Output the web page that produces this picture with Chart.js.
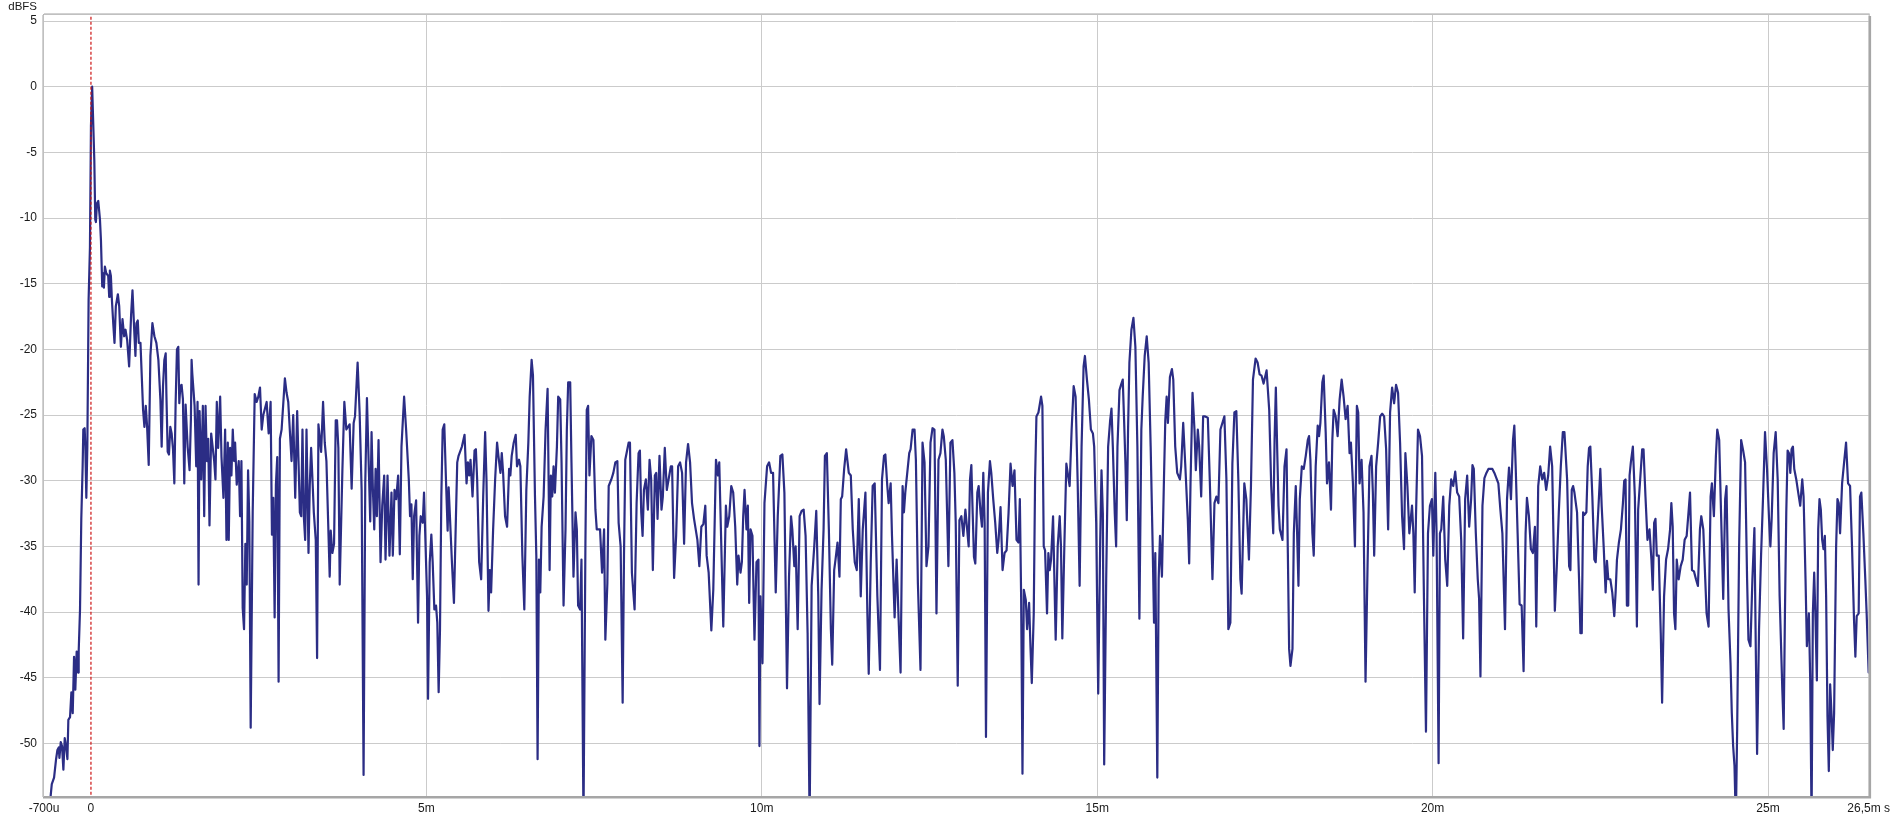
<!DOCTYPE html>
<html><head><meta charset="utf-8">
<script src="https://cdn.jsdelivr.net/npm/chart.js@4/dist/chart.umd.min.js"></script>
<style>html,body{margin:0;padding:0;background:#fff;}canvas{display:block;}</style>
</head><body>
<canvas id="c" width="1895" height="818"></canvas>
<script>
// ---- data: [time in ms, level in dBFS] ----
const seg1 = [[-0.65,-57],[-0.599,-53.9],[-0.584,-53.1],[-0.550,-52.6],[-0.520,-51.2],[-0.500,-50.5],[-0.480,-50.3],[-0.470,-51.1],[-0.450,-49.9],[-0.431,-50.2],[-0.411,-52.0],[-0.391,-49.6],[-0.371,-50.2],[-0.351,-51.2],[-0.337,-48.2],[-0.312,-48.0],[-0.292,-46.1],[-0.272,-47.7],[-0.252,-43.4],[-0.233,-45.9],[-0.213,-43.0],[-0.193,-44.6],[-0.183,-43.0],[-0.163,-39.8],[-0.144,-32.9],[-0.124,-28.9],[-0.114,-26.1],[-0.094,-26.0],[-0.084,-27.4],[-0.069,-31.3],[-0.054,-27.4],[-0.035,-16.2],[-0.015,-12.2],[0.0,-3.0],[0.018,0.0],[0.035,-3.0],[0.050,-5.6],[0.064,-10.1],[0.074,-10.3],[0.089,-8.9],[0.109,-8.7],[0.134,-10.1],[0.149,-11.7],[0.168,-15.2],[0.183,-14.2],[0.193,-15.3],[0.208,-13.7],[0.228,-14.2],[0.257,-14.4],[0.272,-16.0],[0.282,-14.0],[0.297,-14.4],[0.312,-16.2],[0.332,-18.0],[0.351,-19.5],[0.371,-16.7],[0.401,-15.8],[0.421,-16.7],[0.446,-19.8],[0.470,-17.7],[0.495,-19.0],[0.515,-18.5],[0.540,-19.3],[0.569,-21.3],[0.599,-17.3],[0.619,-15.5],[0.649,-19.0],[0.663,-20.5],[0.678,-18.0],[0.698,-17.8],[0.713,-19.5],[0.738,-19.5],[0.777,-24.6],[0.797,-25.9],[0.817,-24.3],[0.837,-25.9],[0.861,-28.8],[0.886,-20.5],[0.916,-18.0],[0.946,-19.0],[0.975,-19.5],[1.005,-20.8],[1.035,-23.8],[1.054,-27.4],[1.074,-22.8],[1.094,-20.8],[1.114,-20.3],[1.124,-23.3],[1.144,-27.8],[1.163,-28.0],[1.183,-25.9],[1.203,-26.4],[1.223,-27.6],[1.243,-30.2],[1.262,-24.1],[1.282,-20.0],[1.302,-19.8],[1.317,-24.1],[1.332,-22.8],[1.351,-22.7],[1.371,-23.8],[1.391,-30.2],[1.411,-24.2],[1.441,-27.4],[1.470,-29.2],[1.490,-25.3],[1.500,-20.8],[1.510,-21.8],[1.545,-24.3],[1.569,-28.9]];
const seg2 = [[1.589,-24.0],[1.604,-37.9],[1.619,-24.7],[1.644,-29.9],[1.668,-24.3],[1.688,-32.7],[1.708,-24.3],[1.728,-28.5],[1.748,-26.8],[1.767,-33.4],[1.792,-26.4],[1.837,-28.5],[1.856,-29.9],[1.876,-24.0],[1.896,-27.5],[1.926,-23.6],[1.946,-28.2],[1.975,-31.3],[2.0,-26.1],[2.020,-34.5],[2.040,-27.1],[2.054,-34.5],[2.074,-27.5],[2.094,-29.6],[2.114,-26.1],[2.134,-28.5],[2.149,-27.1],[2.173,-30.3],[2.203,-28.5],[2.223,-32.7],[2.243,-28.5],[2.262,-39.7],[2.282,-41.3],[2.302,-34.8],[2.322,-37.9],[2.342,-29.2],[2.361,-33.1],[2.381,-48.8],[2.411,-32.4],[2.441,-23.4],[2.470,-24.0],[2.495,-23.6],[2.520,-22.9],[2.545,-26.1],[2.569,-25.0],[2.619,-24.0],[2.649,-26.4],[2.678,-24.0],[2.698,-34.1],[2.718,-31.3],[2.738,-40.4],[2.757,-30.3],[2.777,-28.2],[2.797,-45.3],[2.817,-26.8],[2.842,-26.1],[2.891,-22.2],[2.916,-23.3],[2.941,-24.0],[2.990,-28.5],[3.015,-25.0],[3.045,-31.3],[3.074,-24.7],[3.094,-28.5],[3.114,-32.4],[3.134,-32.7],[3.153,-26.1],[3.173,-32.7],[3.193,-34.5],[3.213,-26.1],[3.243,-35.5],[3.262,-30.3],[3.282,-27.5],[3.302,-29.9],[3.322,-32.4],[3.351,-34.5],[3.371,-43.5],[3.391,-25.7],[3.431,-27.8],[3.460,-24.0],[3.485,-27.1],[3.510,-28.5],[3.559,-37.3],[3.574,-33.8],[3.599,-35.5],[3.624,-34.8],[3.649,-25.4],[3.668,-25.4],[3.688,-27.5],[3.708,-37.9],[3.748,-29.2],[3.777,-24.0],[3.807,-26.1],[3.856,-25.7],[3.886,-30.6]];
const seg3 = [[3.916,-25.6],[3.936,-25.1],[3.975,-21.0],[4.005,-24.8],[4.035,-30.7],[4.064,-52.4],[4.089,-30.2],[4.114,-23.7],[4.144,-29.4],[4.163,-33.1],[4.183,-26.3],[4.203,-30.7],[4.223,-33.7],[4.243,-29.1],[4.262,-32.7],[4.287,-26.9],[4.317,-36.2],[4.342,-31.9],[4.371,-29.6],[4.391,-36.0],[4.421,-29.6],[4.450,-35.7],[4.480,-30.9],[4.500,-35.7],[4.525,-30.7],[4.550,-31.4],[4.579,-29.6],[4.604,-35.6],[4.629,-27.4],[4.668,-23.6],[4.698,-26.1],[4.738,-29.9],[4.757,-32.7],[4.777,-31.8],[4.797,-37.5],[4.817,-32.7],[4.847,-31.5],[4.876,-40.8],[4.896,-34.2],[4.916,-32.7],[4.946,-33.2],[4.965,-30.9],[5.010,-38.8],[5.025,-46.6],[5.050,-36.2],[5.074,-34.1],[5.094,-36.2],[5.119,-39.8],[5.144,-39.5],[5.163,-40.8],[5.183,-46.1],[5.203,-41.3],[5.223,-31.2],[5.243,-26.1],[5.267,-25.7],[5.292,-29.9],[5.317,-33.8],[5.332,-30.5],[5.351,-32.7],[5.381,-36.2],[5.411,-39.3],[5.441,-32.7],[5.460,-28.6],[5.480,-28.1],[5.530,-27.4],[5.569,-26.5],[5.599,-30.2],[5.619,-28.6],[5.639,-29.6],[5.658,-28.4],[5.688,-31.2],[5.718,-27.7],[5.738,-27.6],[5.757,-29.9],[5.787,-36.2],[5.817,-37.5],[5.847,-31.2],[5.876,-26.3],[5.896,-29.9],[5.926,-39.9],[5.946,-36.8],[5.965,-38.5],[5.995,-33.7],[6.025,-29.9],[6.054,-27.1],[6.074,-28.1],[6.104,-29.4],[6.124,-27.9],[6.144,-29.4],[6.173,-32.7],[6.203,-33.5],[6.233,-29.1],[6.252,-29.6],[6.272,-28.1],[6.302,-27.1],[6.332,-26.5],[6.351,-28.9],[6.381,-28.4],[6.401,-28.9],[6.431,-35.7],[6.460,-39.8],[6.490,-30.7],[6.520,-27.1],[6.540,-23.6],[6.569,-20.8],[6.589,-22.0],[6.619,-31.2],[6.639,-35.7],[6.658,-51.2],[6.678,-36.0],[6.698,-38.5],[6.718,-33.5],[6.748,-31.2],[6.777,-26.1],[6.807,-23.0],[6.837,-36.8],[6.856,-29.6],[6.876,-31.2],[6.896,-28.9],[6.916,-30.9],[6.946,-27.4],[6.965,-23.6],[6.995,-23.8],[7.015,-28.6],[7.045,-39.5],[7.074,-33.7],[7.094,-26.1],[7.114,-22.5],[7.144,-22.5],[7.163,-28.6],[7.193,-37.3],[7.223,-32.4],[7.243,-33.7],[7.262,-39.5],[7.292,-39.8],[7.312,-36.0],[7.342,-56.0],[7.371,-34.7],[7.391,-24.6],[7.411,-24.3],[7.431,-29.6],[7.460,-26.6],[7.490,-26.9],[7.520,-32.2],[7.540,-33.7],[7.589,-33.7],[7.619,-37.0],[7.649,-33.7],[7.668,-42.1],[7.698,-37.8],[7.718,-30.4],[7.757,-29.9],[7.787,-29.4],[7.817,-28.6],[7.847,-28.5],[7.866,-33.2],[7.896,-35.0],[7.926,-46.9],[7.946,-35.7],[7.965,-28.4],[8.015,-27.1],[8.035,-27.1],[8.064,-37.0],[8.104,-39.8],[8.134,-31.7],[8.163,-27.9],[8.183,-27.7],[8.203,-32.4],[8.223,-34.2],[8.243,-30.7],[8.272,-29.9],[8.302,-32.2],[8.327,-28.4],[8.351,-29.9]];
const seg4 = [[8.376,-36.8],[8.406,-29.6],[8.426,-29.4],[8.446,-32.9],[8.475,-28.1],[8.505,-32.2],[8.525,-31.2],[8.554,-27.5],[8.584,-30.7],[8.644,-28.9],[8.663,-28.9],[8.693,-37.4],[8.723,-34.2],[8.753,-28.9],[8.782,-28.6],[8.812,-29.4],[8.842,-34.8],[8.871,-28.6],[8.901,-27.2],[8.931,-28.6],[8.960,-31.7],[8.990,-32.9],[9.040,-34.5],[9.069,-36.5],[9.099,-33.5],[9.129,-33.3],[9.158,-31.9],[9.178,-35.7],[9.208,-37.0],[9.248,-41.4],[9.277,-38.3],[9.317,-28.4],[9.347,-29.6],[9.366,-28.6],[9.426,-41.1],[9.465,-31.9],[9.485,-33.5],[9.515,-32.7],[9.545,-30.4],[9.574,-30.9],[9.604,-33.5],[9.634,-37.9],[9.653,-35.7],[9.683,-37.0],[9.703,-36.2],[9.723,-32.7],[9.743,-30.7],[9.772,-33.7],[9.792,-31.9],[9.812,-39.3],[9.832,-33.7],[9.861,-34.2],[9.891,-42.1],[9.921,-36.2],[9.950,-36.0],[9.965,-50.2],[9.980,-38.8],[10.010,-43.9],[10.040,-31.7],[10.079,-28.9],[10.109,-28.6],[10.139,-29.4],[10.168,-29.4],[10.208,-38.5],[10.238,-32.7],[10.277,-28.1],[10.307,-28.0],[10.337,-30.9],[10.376,-45.8],[10.406,-37.3],[10.436,-32.7],[10.455,-33.7],[10.485,-36.5],[10.505,-35.0],[10.535,-41.3],[10.564,-32.7],[10.594,-32.3],[10.624,-32.2],[10.653,-34.2],[10.683,-41.6],[10.713,-56.0],[10.743,-38.0],[10.782,-35.0],[10.812,-32.3],[10.842,-38.8],[10.861,-47.0],[10.891,-38.3],[10.921,-33.7],[10.941,-28.1],[10.970,-27.9],[11.000,-33.7],[11.030,-41.3],[11.050,-44.0],[11.079,-36.8],[11.099,-36.0],[11.129,-34.7],[11.158,-37.3],[11.178,-31.4],[11.198,-31.2],[11.228,-29.1],[11.257,-27.6],[11.297,-29.4],[11.327,-29.6],[11.356,-33.7],[11.386,-36.2],[11.416,-36.8],[11.446,-31.4],[11.475,-38.8],[11.505,-33.7],[11.545,-30.9],[11.574,-40.1],[11.594,-44.7],[11.624,-36.2],[11.653,-30.4],[11.683,-30.2],[11.723,-38.8],[11.762,-44.4],[11.792,-29.9],[11.822,-28.1],[11.842,-28.0],[11.871,-30.4],[11.891,-31.7],[11.921,-30.2],[11.941,-34.2],[11.980,-40.4],[12.010,-36.0],[12.040,-40.6],[12.069,-44.6],[12.099,-30.4],[12.119,-32.4],[12.139,-30.9],[12.198,-27.9],[12.218,-27.6],[12.248,-26.1],[12.277,-26.1],[12.297,-28.4],[12.327,-37.8],[12.366,-44.4],[12.396,-27.1],[12.426,-28.6],[12.455,-36.5],[12.485,-35.0],[12.515,-27.1],[12.545,-26.0],[12.574,-26.1],[12.604,-40.1],[12.634,-28.4],[12.663,-27.9],[12.693,-26.1],[12.713,-26.6],[12.743,-28.4],[12.782,-36.5],[12.812,-27.1],[12.842,-26.9],[12.871,-29.4],[12.891,-33.2],[12.921,-45.6]];
const seg5 = [[12.946,-33.0],[12.975,-32.7],[13.005,-34.2],[13.035,-32.2],[13.084,-35.0],[13.104,-29.9],[13.124,-28.8],[13.144,-32.5],[13.163,-35.8],[13.183,-36.3],[13.213,-30.9],[13.233,-30.4],[13.262,-32.5],[13.282,-33.5],[13.302,-29.4],[13.322,-33.2],[13.342,-49.5],[13.371,-30.9],[13.401,-28.5],[13.421,-29.4],[13.450,-31.4],[13.480,-33.2],[13.510,-35.5],[13.530,-34.5],[13.559,-32.0],[13.589,-36.8],[13.619,-35.5],[13.649,-35.3],[13.678,-32.5],[13.708,-28.7],[13.738,-30.4],[13.767,-29.2],[13.797,-34.5],[13.827,-34.7],[13.847,-31.4],[13.866,-38.8],[13.886,-52.3],[13.906,-38.3],[13.936,-39.1],[13.955,-41.3],[13.985,-39.3],[14.005,-42.6],[14.025,-45.4],[14.054,-40.1],[14.074,-29.9],[14.094,-25.1],[14.124,-24.8],[14.163,-23.6],[14.183,-24.3],[14.203,-35.0],[14.223,-35.3],[14.252,-40.1],[14.272,-35.5],[14.292,-36.8],[14.312,-36.0],[14.342,-32.7],[14.381,-42.1],[14.411,-35.0],[14.441,-32.7],[14.460,-35.0],[14.480,-42.0],[14.510,-35.0],[14.540,-28.7],[14.569,-29.7],[14.589,-30.4],[14.619,-26.1],[14.649,-22.8],[14.678,-23.6],[14.708,-29.9],[14.738,-38.0],[14.767,-27.4],[14.797,-21.3],[14.817,-20.5],[14.847,-22.3],[14.876,-23.8],[14.906,-26.1],[14.936,-26.4],[14.955,-27.4],[14.985,-33.2],[15.015,-46.2],[15.045,-34.5],[15.064,-29.2],[15.084,-32.5],[15.104,-51.6],[15.134,-37.5],[15.163,-27.4],[15.193,-25.4],[15.213,-24.5],[15.233,-27.4],[15.262,-32.5],[15.282,-35.0],[15.302,-27.4],[15.332,-23.1],[15.361,-22.6],[15.381,-22.3],[15.401,-25.4],[15.421,-28.7],[15.441,-33.0],[15.460,-26.1],[15.480,-21.0],[15.510,-18.5],[15.540,-17.6],[15.569,-19.8],[15.599,-27.4],[15.629,-40.5],[15.658,-26.1],[15.678,-23.6],[15.708,-20.5],[15.738,-19.0],[15.767,-21.0],[15.797,-27.4],[15.827,-35.0],[15.847,-40.8],[15.866,-35.5],[15.896,-52.6],[15.916,-37.5],[15.936,-34.2],[15.965,-37.3],[15.995,-29.9],[16.015,-25.4],[16.035,-23.6],[16.054,-25.6],[16.084,-22.1],[16.114,-21.5],[16.134,-22.3],[16.163,-27.4],[16.193,-29.4],[16.233,-29.9],[16.252,-28.9],[16.282,-25.6],[16.312,-28.7],[16.351,-33.0],[16.371,-36.3],[16.391,-30.2],[16.421,-23.3],[16.450,-26.1],[16.470,-29.2],[16.500,-26.1],[16.520,-27.4],[16.550,-31.2],[16.579,-25.1],[16.609,-25.1],[16.649,-25.2],[16.678,-29.9],[16.718,-37.5],[16.748,-31.7],[16.777,-31.2],[16.807,-31.7],[16.837,-26.1],[16.866,-25.6],[16.896,-25.1],[16.926,-29.9],[16.955,-41.3],[16.985,-40.8],[17.015,-28.7],[17.045,-24.8],[17.074,-24.7],[17.104,-29.9],[17.134,-37.5],[17.153,-38.6],[17.193,-30.2],[17.223,-31.4],[17.262,-36.0],[17.292,-30.4],[17.322,-22.3],[17.361,-20.7],[17.391,-21.0],[17.421,-21.9],[17.450,-22.0],[17.480,-22.6]];
const seg6 = [[17.525,-21.6],[17.564,-24.6],[17.594,-30.4],[17.624,-34.0],[17.644,-26.9],[17.663,-22.9],[17.683,-27.6],[17.703,-31.9],[17.723,-33.7],[17.762,-34.5],[17.792,-28.9],[17.822,-27.6],[17.842,-35.5],[17.861,-42.8],[17.881,-44.1],[17.911,-42.8],[17.931,-34.0],[17.960,-30.4],[17.980,-34.0],[18.000,-38.0],[18.020,-31.4],[18.050,-28.9],[18.079,-29.1],[18.109,-28.1],[18.139,-26.9],[18.158,-26.6],[18.178,-28.4],[18.208,-34.0],[18.228,-35.7],[18.257,-28.9],[18.287,-25.8],[18.307,-26.6],[18.327,-25.6],[18.356,-22.5],[18.376,-22.0],[18.406,-26.3],[18.426,-30.2],[18.455,-28.6],[18.485,-32.2],[18.505,-26.9],[18.525,-24.6],[18.554,-25.1],[18.584,-26.6],[18.614,-23.8],[18.644,-22.3],[18.673,-23.6],[18.703,-25.3],[18.733,-24.3],[18.762,-27.9],[18.782,-27.1],[18.812,-30.2],[18.842,-35.0],[18.871,-24.3],[18.891,-24.8],[18.911,-30.2],[18.941,-28.4],[18.970,-32.4],[19.000,-45.3],[19.030,-36.5],[19.059,-28.9],[19.089,-28.1],[19.109,-30.9],[19.129,-35.7],[19.158,-28.9],[19.188,-27.1],[19.218,-25.1],[19.248,-24.9],[19.277,-25.1],[19.307,-27.6],[19.337,-33.7],[19.366,-24.8],[19.396,-22.9],[19.426,-24.1],[19.455,-22.7],[19.485,-23.3],[19.515,-27.1],[19.545,-32.7],[19.574,-35.2],[19.594,-27.9],[19.624,-30.4],[19.653,-34.0],[19.693,-31.9],[19.713,-34.0],[19.733,-38.5],[19.752,-32.7],[19.782,-26.1],[19.812,-26.6],[19.842,-28.1],[19.871,-39.0],[19.901,-49.1],[19.931,-34.0],[19.960,-31.9],[19.990,-31.4],[20.010,-35.7],[20.040,-29.4],[20.059,-34.0],[20.089,-51.5],[20.109,-34.0],[20.129,-33.7],[20.158,-31.2],[20.188,-36.0],[20.218,-38.0],[20.248,-31.9],[20.277,-29.9],[20.307,-30.4],[20.337,-29.3],[20.366,-30.9],[20.396,-31.2],[20.426,-34.5],[20.455,-42.0],[20.485,-31.4],[20.515,-29.6],[20.545,-33.5],[20.574,-31.4],[20.594,-28.8],[20.614,-29.1],[20.644,-34.0],[20.673,-37.5],[20.693,-39.0],[20.713,-44.9],[20.743,-31.9],[20.772,-29.8],[20.802,-29.4],[20.832,-29.1],[20.891,-29.1],[20.921,-29.4],[20.980,-30.2],[21.010,-32.2],[21.040,-34.0],[21.079,-41.3],[21.109,-31.4],[21.139,-29.0],[21.168,-31.4],[21.198,-26.9],[21.218,-25.8],[21.238,-28.9],[21.267,-34.0],[21.297,-39.4],[21.327,-39.5],[21.356,-44.5],[21.386,-34.0],[21.406,-31.3],[21.436,-32.7],[21.465,-35.2],[21.495,-35.5],[21.525,-33.5],[21.545,-41.1],[21.574,-30.4],[21.604,-28.9],[21.634,-29.9],[21.663,-29.4],[21.693,-30.7],[21.723,-29.6],[21.752,-27.4],[21.782,-28.9],[21.822,-39.9],[21.851,-36.5],[21.881,-32.4],[21.911,-28.9],[21.941,-26.3]];
const seg7 = [[21.965,-26.3],[22.005,-29.9],[22.035,-36.5],[22.054,-36.8],[22.074,-30.7],[22.094,-30.4],[22.114,-30.9],[22.153,-32.4],[22.183,-37.5],[22.203,-41.6],[22.223,-41.6],[22.243,-32.4],[22.262,-32.6],[22.292,-32.4],[22.312,-28.9],[22.332,-27.5],[22.351,-27.4],[22.381,-31.2],[22.411,-36.0],[22.431,-36.2],[22.450,-34.2],[22.480,-31.2],[22.500,-29.1],[22.520,-31.9],[22.550,-35.0],[22.579,-38.5],[22.599,-36.1],[22.619,-37.5],[22.649,-37.5],[22.678,-38.5],[22.708,-40.3],[22.728,-38.5],[22.748,-36.0],[22.777,-34.7],[22.807,-33.7],[22.837,-31.7],[22.856,-30.0],[22.876,-29.9],[22.896,-39.5],[22.916,-39.5],[22.936,-29.6],[22.955,-28.6],[22.985,-27.4],[23.015,-31.2],[23.045,-41.1],[23.064,-32.2],[23.094,-29.9],[23.124,-27.6],[23.144,-27.6],[23.173,-31.2],[23.203,-34.5],[23.233,-33.7],[23.262,-36.0],[23.282,-38.3],[23.302,-33.2],[23.322,-32.9],[23.342,-35.7],[23.371,-35.7],[23.401,-41.6],[23.421,-46.9],[23.450,-38.8],[23.480,-36.0],[23.510,-35.2],[23.540,-33.7],[23.559,-31.7],[23.579,-33.5],[23.599,-40.1],[23.619,-41.3],[23.639,-36.0],[23.668,-37.5],[23.698,-36.5],[23.728,-36.0],[23.757,-34.5],[23.787,-34.2],[23.807,-32.9],[23.837,-30.9],[23.866,-36.8],[23.896,-36.9],[23.926,-37.5],[23.955,-38.0],[23.985,-33.7],[24.005,-32.7],[24.035,-33.7],[24.064,-37.5],[24.084,-40.1],[24.114,-41.1],[24.144,-31.2],[24.163,-30.2],[24.193,-32.7],[24.223,-28.1],[24.243,-26.1],[24.272,-26.9],[24.302,-32.9],[24.332,-39.0],[24.361,-31.4],[24.381,-30.4],[24.411,-39.8],[24.441,-43.9],[24.460,-47.7],[24.480,-50.2],[24.500,-51.7],[24.520,-56.0],[24.540,-48.9],[24.569,-35.0],[24.599,-26.9],[24.629,-27.7],[24.658,-28.6],[24.688,-37.5],[24.708,-42.1],[24.738,-42.6],[24.767,-37.5],[24.797,-33.6],[24.817,-42.6],[24.837,-50.8],[24.866,-41.3],[24.896,-35.7],[24.926,-31.2],[24.955,-26.3],[24.985,-29.1],[25.015,-32.9],[25.035,-35.0],[25.054,-32.9],[25.084,-27.9],[25.114,-26.3],[25.144,-29.9],[25.173,-38.8],[25.213,-45.9],[25.233,-48.9],[25.252,-40.1],[25.272,-32.4],[25.292,-27.7],[25.312,-27.9],[25.332,-29.4],[25.351,-27.6],[25.371,-27.4],[25.391,-29.1],[25.421,-29.9],[25.450,-30.9],[25.480,-31.9],[25.510,-29.9],[25.530,-31.2],[25.559,-37.5],[25.579,-42.6],[25.609,-40.1],[25.629,-45.2],[25.649,-56.0],[25.668,-40.1],[25.688,-37.0],[25.708,-40.6],[25.728,-45.2],[25.748,-33.7],[25.767,-31.4],[25.787,-32.2],[25.807,-34.5],[25.827,-35.2],[25.847,-34.2],[25.866,-38.8],[25.886,-47.9],[25.906,-52.1],[25.926,-45.5],[25.946,-47.7],[25.965,-50.5],[25.985,-47.7],[26.015,-35.0],[26.035,-31.4],[26.054,-31.7],[26.074,-34.0],[26.104,-30.2],[26.134,-28.6],[26.163,-27.1],[26.193,-30.2],[26.223,-30.4],[26.252,-35.0],[26.282,-40.6],[26.302,-43.4],[26.322,-40.3],[26.351,-40.1],[26.371,-31.2],[26.391,-30.9],[26.421,-34.0],[26.450,-37.5],[26.470,-40.1],[26.500,-44.6]];

const xTickValues = [-0.7, 0, 5, 10, 15, 20, 25, 26.5];
const xTickLabels = ['-700u', '0', '5m', '10m', '15m', '20m', '25m', '26,5m s'];
const yTickValues = [5, 0, -5, -10, -15, -20, -25, -30, -35, -40, -45, -50];
const yTickLabels = ['5', '0', '-5', '-10', '-15', '-20', '-25', '-30', '-35', '-40', '-45', '-50'];
const yAxisTitle = 'dBFS';
const markerTime = [0, 0];
const markerLevel = [-60, 10];

const allPoints = [].concat(seg1, seg2, seg3, seg4, seg5, seg6, seg7).map(p => ({x: p[0], y: p[1]}));
const markerPoints = markerTime.map((t, i) => ({x: t, y: markerLevel[i]}));

const tickFont = {family: 'Liberation Sans, Arial, sans-serif', size: 12};
const tickColor = '#1a1a1a';

const framePlugin = {
  id: 'frame',
  afterDraw(chart) {
    const {ctx, chartArea: a} = chart;
    ctx.save();
    ctx.strokeStyle = '#b4b4b4';
    ctx.lineWidth = 1;
    ctx.strokeRect(a.left - 0.5, a.top - 0.5, a.right - a.left + 1, a.bottom - a.top + 1);
    ctx.strokeStyle = '#a6a6a6';
    ctx.lineWidth = 2.5;
    ctx.beginPath();
    ctx.moveTo(a.right + 1.2, a.top + 1);
    ctx.lineTo(a.right + 1.2, a.bottom + 1.2);
    ctx.lineTo(a.left - 1, a.bottom + 1.2);
    ctx.stroke();
    ctx.strokeStyle = '#c4c4c4';
    ctx.lineWidth = 1.5;
    ctx.beginPath();
    ctx.moveTo(a.left - 1, a.top);
    ctx.lineTo(a.left - 1, a.bottom + 1);
    ctx.moveTo(a.left, a.top - 1);
    ctx.lineTo(a.right + 1, a.top - 1);
    ctx.stroke();
    ctx.fillStyle = tickColor;
    ctx.font = '11.5px "Liberation Sans", Arial, sans-serif';
    ctx.textAlign = 'right';
    ctx.textBaseline = 'middle';
    ctx.fillText(yAxisTitle, 37, 6.5);
    ctx.restore();
  }
};

new Chart(document.getElementById('c'), {
  type: 'line',
  data: {
    datasets: [
      {data: markerPoints, borderColor: '#cc1111', borderWidth: 1.2, borderDash: [3, 2], pointRadius: 0, order: 0},
      {data: allPoints, borderColor: '#2b2d85', borderWidth: 2.2, borderJoinStyle: 'round', borderCapStyle: 'round', pointRadius: 0, tension: 0, order: 1}
    ]
  },
  options: {
    responsive: false,
    animation: false,
    layout: {padding: {top: 15, right: 20, left: 0, bottom: 0}},
    plugins: {legend: {display: false}, tooltip: {enabled: false}},
    scales: {
      x: {
        type: 'linear', min: -0.7, max: 26.5,
        afterBuildTicks: s => { s.ticks = xTickValues.map(v => ({value: v})); },
        afterFit: s => { s.height = 22; },
        ticks: {autoSkip: false, maxRotation: 0, minRotation: 0, padding: 5, font: tickFont, color: tickColor,
          callback: (v, i) => xTickLabels[i]},
        grid: {drawTicks: false, lineWidth: 1,
          color: c => (c.tick && (c.tick.value === 0 || c.tick.value === -0.7 || c.tick.value === 26.5)) ? 'rgba(0,0,0,0)' : '#cbcbcb'},
        border: {display: false}
      },
      y: {
        type: 'linear', min: -54, max: 5.46,
        afterBuildTicks: s => { s.ticks = yTickValues.map(v => ({value: v})); },
        afterFit: s => { s.width = 44; },
        ticks: {padding: 7, font: tickFont, color: tickColor, callback: (v, i) => yTickLabels[i]},
        grid: {drawTicks: false, lineWidth: 1, color: '#cbcbcb'},
        border: {display: false}
      }
    }
  },
  plugins: [framePlugin]
});
</script>
</body></html>
